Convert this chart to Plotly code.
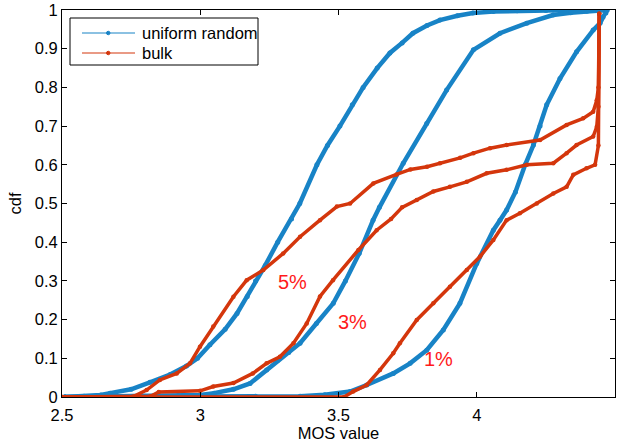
import plotly.graph_objects as go

# ---- data ----
u5_x = [2.51, 2.58, 2.64, 2.674, 2.75, 2.818, 2.891, 2.95, 2.99, 3.035, 3.09, 3.133, 3.17, 3.20, 3.235,
        3.28, 3.33, 3.36, 3.422, 3.46, 3.505, 3.55, 3.589, 3.64, 3.686, 3.73, 3.769, 3.82, 3.867, 3.93,
        3.986, 4.06, 4.146, 4.25, 4.35, 4.46]
u5_y = [0.0, 0.002, 0.005, 0.010, 0.020, 0.038, 0.058, 0.080, 0.100, 0.135, 0.175, 0.216, 0.260, 0.300, 0.340,
        0.400, 0.460, 0.500, 0.600, 0.650, 0.700, 0.755, 0.800, 0.850, 0.889, 0.915, 0.940, 0.960, 0.974, 0.985,
        0.992, 0.996, 0.998, 0.999, 1.0, 1.0]

u3_x = [2.51, 2.65, 2.80, 2.92, 3.0, 3.05, 3.12, 3.18, 3.24, 3.28, 3.32, 3.361, 3.42, 3.481, 3.525, 3.575,
        3.625, 3.648, 3.734, 3.819, 3.891, 3.988, 4.084, 4.181, 4.276, 4.34, 4.398, 4.47]
u3_y = [0.0, 0.001, 0.002, 0.004, 0.005, 0.010, 0.020, 0.035, 0.070, 0.095, 0.115, 0.139, 0.190, 0.242, 0.300, 0.371,
        0.457, 0.490, 0.604, 0.707, 0.793, 0.897, 0.940, 0.966, 0.987, 0.993, 0.997, 1.0]

u1_x = [2.51, 2.9, 3.2, 3.361, 3.45, 3.542, 3.602, 3.698, 3.759, 3.819, 3.879, 3.939, 4.0, 4.06, 4.084,
        4.108, 4.14, 4.175, 4.205, 4.229, 4.253, 4.301, 4.361, 4.421, 4.446, 4.457, 4.467, 4.472]
u1_y = [0.0, 0.001, 0.002, 0.002, 0.006, 0.014, 0.031, 0.061, 0.087, 0.121, 0.173, 0.242, 0.345, 0.431, 0.457,
        0.483, 0.530, 0.600, 0.651, 0.700, 0.755, 0.823, 0.892, 0.948, 0.966, 0.982, 0.992, 1.0]

r5_x = [2.50, 2.758, 2.806, 2.854, 2.915, 2.963, 2.999, 3.047, 3.12, 3.168, 3.228, 3.30, 3.361, 3.433, 3.494,
        3.542, 3.626, 3.71, 3.76, 3.82, 3.867, 3.94, 3.988, 4.048, 4.108, 4.229, 4.325, 4.385, 4.421, 4.434,
        4.44, 4.443]
r5_y = [0.0, 0.001, 0.018, 0.044, 0.061, 0.087, 0.130, 0.182, 0.259, 0.302, 0.328, 0.371, 0.414, 0.457, 0.492,
        0.500, 0.552, 0.575, 0.588, 0.595, 0.604, 0.618, 0.630, 0.643, 0.651, 0.664, 0.703, 0.720, 0.737, 0.767,
        0.800, 0.99]

r3_x = [2.50, 2.82, 2.85, 3.0, 3.047, 3.12, 3.19, 3.24, 3.288, 3.337, 3.385, 3.433, 3.48, 3.572, 3.638,
        3.69, 3.73, 3.783, 3.843, 3.903, 3.964, 4.036, 4.108, 4.181, 4.277, 4.325, 4.361, 4.421, 4.434,
        4.44, 4.443]
r3_y = [0.0, 0.002, 0.013, 0.016, 0.027, 0.036, 0.061, 0.087, 0.104, 0.139, 0.190, 0.260, 0.302, 0.380, 0.431,
        0.460, 0.490, 0.509, 0.531, 0.543, 0.556, 0.578, 0.587, 0.600, 0.604, 0.630, 0.651, 0.673, 0.698,
        0.75, 0.99]

r1_x = [2.50, 3.52, 3.553, 3.602, 3.65, 3.698, 3.722, 3.783, 3.843, 3.903, 3.964, 4.012, 4.06, 4.108,
        4.156, 4.217, 4.277, 4.325, 4.349, 4.397, 4.428, 4.44, 4.443]
r1_y = [0.0, 0.0, 0.014, 0.031, 0.070, 0.113, 0.139, 0.199, 0.242, 0.285, 0.328, 0.363, 0.406, 0.457,
        0.475, 0.500, 0.526, 0.543, 0.574, 0.591, 0.600, 0.65, 0.99]

labels = ["5%", "3%", "1%"]
label_x = [3.335, 3.551, 3.861]
label_y = [0.297, 0.194, 0.097]

legend_names = ["uniform random", "bulk"]

x_ticks = [2.5, 3, 3.5, 4, 4.5]
x_tick_text = ["2.5", "3", "3.5", "4", "4.5"]
y_ticks = [0, 0.1, 0.2, 0.3, 0.4, 0.5, 0.6, 0.7, 0.8, 0.9, 1]
y_tick_text = ["0", "0.1", "0.2", "0.3", "0.4", "0.5", "0.6", "0.7", "0.8", "0.9", "1"]

BLUE = "#1883c6"
RED = "#d4360c"
FONT = "Liberation Sans, Arial, Helvetica, sans-serif"

fig = go.Figure()

for xs, ys in [(u5_x, u5_y), (u3_x, u3_y), (u1_x, u1_y)]:
    fig.add_trace(go.Scatter(x=xs, y=ys, mode="lines+markers", showlegend=False,
                             line=dict(color=BLUE, width=4.5), marker=dict(color=BLUE, size=5),
                             hoverinfo="skip"))
for xs, ys in [(r5_x, r5_y), (r3_x, r3_y), (r1_x, r1_y)]:
    fig.add_trace(go.Scatter(x=xs, y=ys, mode="lines+markers", showlegend=False,
                             line=dict(color=RED, width=3.5), marker=dict(color=RED, size=4.5),
                             hoverinfo="skip"))

for t, lx, ly in zip(labels, label_x, label_y):
    fig.add_annotation(x=lx, y=ly, text=t, showarrow=False,
                       font=dict(family=FONT, size=20, color="#ff1a1a"))

# ---- manual legend (paper coordinates) ----
W, H = 553.0, 387.0  # plot area size in px


def px(xp):
    return (xp - 62) / W


def py(yp):
    return (397 - yp) / H


fig.add_shape(type="rect", xref="paper", yref="paper", x0=px(70), x1=px(258), y0=py(65), y1=py(18),
              line=dict(color="black", width=1), fillcolor="white", layer="above")
for name, col, ypix in zip(legend_names, [BLUE, RED], [33, 53]):
    fig.add_shape(type="line", xref="paper", yref="paper", x0=px(82), x1=px(135), y0=py(ypix), y1=py(ypix),
                  line=dict(color=col, width=1.2), layer="above")
    fig.add_shape(type="circle", xref="paper", yref="paper", x0=px(106.5), x1=px(110), y0=py(ypix + 1.75),
                  y1=py(ypix - 1.75), line=dict(color=col, width=1), fillcolor=col, layer="above")
    fig.add_annotation(xref="paper", yref="paper", x=px(140), y=py(ypix), text=name, showarrow=False,
                       xanchor="left", yanchor="middle",
                       font=dict(family=FONT, size=16.5, color="black"))

axis_common = dict(showline=True, linecolor="black", linewidth=1, mirror="ticks",
                   ticks="inside", ticklen=5, tickcolor="black", showgrid=False, zeroline=False,
                   tickfont=dict(family=FONT, size=16.5, color="black"))

fig.update_layout(
    width=626, height=445,
    margin=dict(l=62, r=11, t=10, b=48, autoexpand=False),
    paper_bgcolor="white", plot_bgcolor="white",
    font=dict(family=FONT, size=16.5, color="black"),
    xaxis=dict(range=[2.5, 4.5], tickvals=x_ticks, ticktext=x_tick_text, ticklabelstandoff=3,
               title=dict(text="MOS value", font=dict(family=FONT, size=16.5), standoff=0),
               **axis_common),
    yaxis=dict(range=[0, 1], tickvals=y_ticks, ticktext=y_tick_text,
               title=dict(text="cdf", font=dict(family=FONT, size=16.5), standoff=8),
               **axis_common),
    showlegend=False,
)

fig.write_html("out.html", config={"displayModeBar": False},
               post_script="document.body.style.margin='0px';")
